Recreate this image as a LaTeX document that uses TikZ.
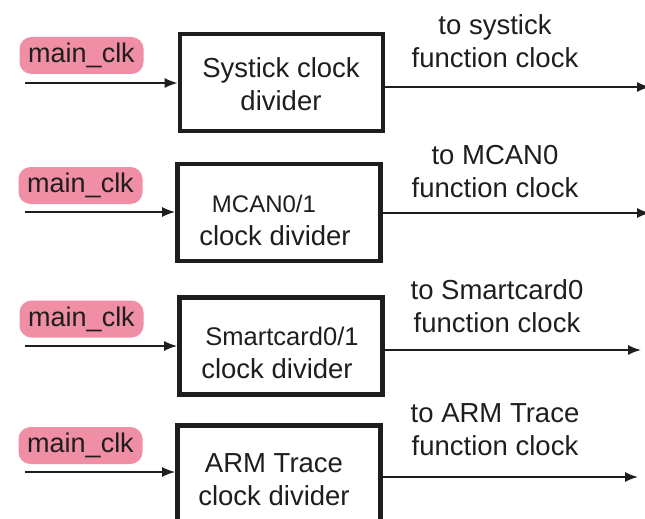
\documentclass[tikz,border=0pt]{standalone}
\usepackage{fontspec}
\setmainfont{Liberation Sans}
\usetikzlibrary{arrows.meta}
\definecolor{clkpink}{RGB}{240,142,166}
\definecolor{ink}{RGB}{30,30,30}
\tikzset{
  divbox/.style={draw=ink, line width=4.8pt, minimum width=203pt, minimum height=97pt, inner sep=0pt},
  clkpill/.style={fill=clkpink, rounded corners=12pt, minimum width=124pt, minimum height=37pt, inner sep=0pt,
    font=\fontsize{27}{31}\selectfont, text=ink},
  boxtext/.style={align=center, font=\fontsize{27.5}{33}\selectfont, text=ink},
  outtext/.style={align=center, font=\fontsize{27.5}{33}\selectfont, text=ink},
  sig/.style={draw=ink, line width=1.6pt},
  sigarrow/.style={sig, -{Latex[length=13pt,width=10pt]}},
}
\begin{document}
\begin{tikzpicture}[x=1pt,y=-1pt]
\useasboundingbox (0,0) rectangle (645,519);

% ---- Systick ----
\node[clkpill] (clk1) at (81.5,55.5) {main\_clk};
\node[divbox] (b1) at (281.5,82.5) {};
\node[boxtext] (t1) at (281,84) {Systick clock\\divider};
\coordinate (in1) at (25,83);
\coordinate (out1) at (650,87);
\draw[sigarrow] (in1) -- (in1 -| b1.west);
\draw[sigarrow] (out1 -| b1.east) -- (out1);
\node[outtext] (o1) at (495,41.5) {to systick\\function clock};

% ---- MCAN ----
\node[clkpill] (clk2) at (80.5,185.5) {main\_clk};
\node[divbox] (b2) at (279,212.5) {};
\node[boxtext] (t2) at (275,220) {{\fontsize{24}{33}\selectfont\hspace*{-22pt}MCAN0/1}\\clock divider};
\coordinate (in2) at (25,212);
\coordinate (out2) at (650,213);
\draw[sigarrow] (in2) -- (in2 -| b2.west);
\draw[sigarrow] (out2 -| b2.east) -- (out2);
\node[outtext] (o2) at (495,171.5) {to MCAN0\\function clock};

% ---- Smartcard ----
\node[clkpill] (clk3) at (81.5,319) {main\_clk};
\node[divbox] (b3) at (281,346) {};
\node[boxtext] (t3) at (277,352.5) {{\fontsize{25.5}{33}\selectfont\hspace*{10pt}Smartcard0/1}\\clock divider};
\coordinate (in3) at (25,346);
\coordinate (out3) at (641,350);
\draw[sigarrow] (in3) -- (in3 -| b3.west);
\draw[sigarrow] (out3 -| b3.east) -- (out3);
\node[outtext] (o3) at (497,306) {to Smartcard0\\function clock};

% ---- ARM Trace ----
\node[clkpill] (clk4) at (80.5,445.5) {main\_clk};
\node[divbox] (b4) at (279,474) {};
\node[boxtext] (t4) at (274,479.5) {ARM Trace\\clock divider};
\coordinate (in4) at (25,472);
\coordinate (out4) at (638,477);
\draw[sigarrow] (in4) -- (in4 -| b4.west);
\draw[sigarrow] (out4 -| b4.east) -- (out4);
\node[outtext] (o4) at (495,430) {to ARM Trace\\function clock};
\end{tikzpicture}
\end{document}
